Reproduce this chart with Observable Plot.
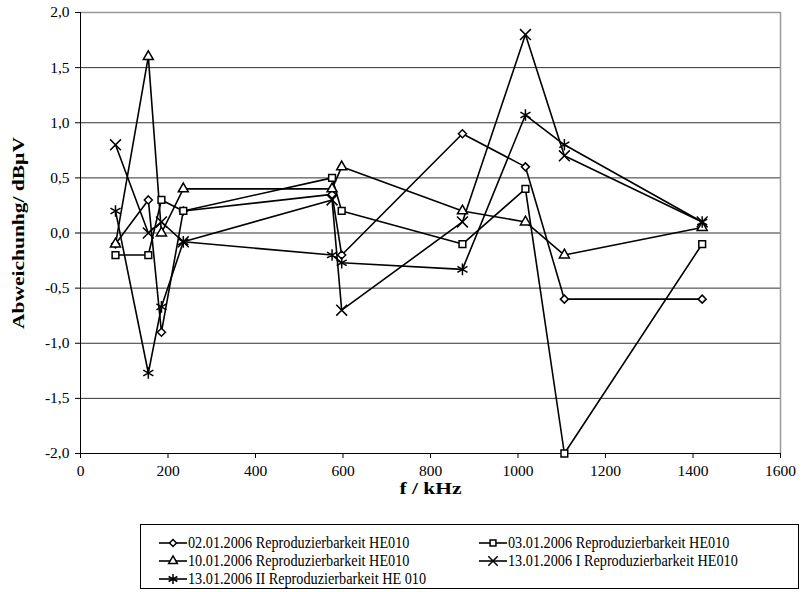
<!DOCTYPE html>
<html><head><meta charset="utf-8">
<script src="https://cdn.jsdelivr.net/npm/d3@7"></script>
<script src="https://cdn.jsdelivr.net/npm/@observablehq/plot@0.6"></script>
<style>
body{margin:0;background:#fff;font-family:"Liberation Serif","Times New Roman",serif;}
#wrap{position:relative;width:805px;height:592px;}
#legend{position:absolute;left:140px;top:524px;width:659px;height:65px;border:1px solid #000;box-sizing:border-box;font-size:16px;color:#000;}
.li{position:absolute;display:flex;align-items:center;height:18px;white-space:nowrap;}
.li svg{margin-right:1px;flex:none;}
.li span{display:inline-block;transform:scaleX(0.89);transform-origin:left center;}
g[aria-label="y-axis label"] text, g[aria-label="x-axis label"] text{font-weight:bold;}
</style></head><body>
<div id="wrap"><div id="chart"></div><div id="legend"></div></div>
<script>
const freqs = [80, 155, 185, 235, 575, 597, 873, 1017, 1106, 1421];
const s1 = [-0.1, 0.3, -0.9, 0.2, 0.35, -0.2, 0.9, 0.6, -0.6, -0.6];
const s2 = [-0.2, -0.2, 0.3, 0.2, 0.5, 0.2, -0.1, 0.4, -2.0, -0.1];
const s3 = [-0.1, 1.6, 0.0, 0.4, 0.4, 0.6, 0.2, 0.1, -0.2, 0.05];
const s4 = [0.8, 0.0, 0.1, -0.08, 0.3, -0.7, 0.1, 1.8, 0.7, 0.1];
const s5 = [0.2, -1.27, -0.67, -0.08, -0.2, -0.27, -0.33, 1.07, 0.8, 0.1];
const names = ["02.01.2006 Reproduzierbarkeit HE010","03.01.2006 Reproduzierbarkeit HE010","10.01.2006 Reproduzierbarkeit HE010","13.01.2006 I Reproduzierbarkeit HE010","13.01.2006 II Reproduzierbarkeit HE 010"];
const symbols = ["diamond2","square2","triangle2","times","asterisk"];
const sizes = [3.6, 4.3, 4.8, 5, 5.5];
const xTicks = [0,200,400,600,800,1000,1200,1400,1600];
const yTicks = [-2,-1.5,-1,-0.5,0,0.5,1,1.5,2];

const allSeries = [s1,s2,s3,s4,s5].map((vals,i)=>vals.map((v,j)=>({f:freqs[j],v,s:i})));
const fmt = d => d.toFixed(1).replace(".", ",");
const marks = [
  Plot.ruleY(yTicks.slice(1,-1), {stroke:"#333", strokeWidth:1}),
  Plot.ruleY([2], {stroke:"#999", strokeWidth:1.5}),
  Plot.ruleX([1600], {stroke:"#999", strokeWidth:1.5}),
  Plot.ruleY([-2], {stroke:"#000", strokeWidth:1}),
  Plot.ruleX([0], {stroke:"#000", strokeWidth:1}),
  Plot.axisX({ticks:xTicks, tickSize:5, tickPadding:6, fontSize:15.5, tickFormat:d=>String(d), label:"f / kHz", labelAnchor:"center", labelArrow:"none", labelOffset:40}),
  Plot.axisY({ticks:yTicks, tickSize:5, tickPadding:6, fontSize:15.5, tickFormat:fmt, label:"Abweichunhg/ dBµV", labelAnchor:"center", labelArrow:"none", labelOffset:68})
];
allSeries.forEach((d,i)=>{
  marks.push(Plot.line(d,{x:"f",y:"v",stroke:"#000",strokeWidth:1.6}));
});
allSeries.forEach((d,i)=>{
  marks.push(Plot.dot(d,{x:"f",y:"v",symbol:symbols[i],r:sizes[i],stroke:"#000",fill:(i<3?"#fff":"none"),strokeWidth:1.5}));
});
const chart = Plot.plot({
  width:805, height:500,
  marginLeft:80, marginRight:25, marginTop:12, marginBottom:47,
  style:{fontFamily:"Liberation Serif, Times New Roman, serif", fontSize:"15px", color:"#000", background:"#fff"},
  x:{domain:[0,1600]},
  y:{domain:[-2,2]},
  marks
});
const xl = chart.querySelector('g[aria-label="x-axis label"] text');
if (xl) { xl.style.fontSize = "17px"; xl.setAttribute("textLength", "62"); xl.setAttribute("lengthAdjust", "spacingAndGlyphs"); }
const yl = chart.querySelector('g[aria-label="y-axis label"] text');
if (yl) { yl.style.fontSize = "16px"; yl.setAttribute("textLength", "192"); yl.setAttribute("lengthAdjust", "spacingAndGlyphs"); }
document.getElementById("chart").appendChild(chart);

// legend
const pos = [[18,10],[338,10],[18,28],[338,28],[18,46]];
const lg = document.getElementById("legend");
const map = {diamond2:d3.symbolDiamond2, square2:d3.symbolSquare2, triangle2:d3.symbolTriangle2, times:d3.symbolTimes, asterisk:d3.symbolAsterisk};
names.forEach((n,i)=>{
  const div = document.createElement("div");
  div.className = "li";
  div.style.left = pos[i][0]+"px";
  div.style.top = (pos[i][1]-1)+"px";
  const sv = d3.create("svg").attr("width",28).attr("height",16);
  sv.append("line").attr("x1",0).attr("x2",28).attr("y1",8).attr("y2",8).attr("stroke","#000").attr("stroke-width",1.6);
  const area = Math.PI*sizes[i]*sizes[i]*0.75;
  sv.append("path").attr("transform","translate(14,8)").attr("d",d3.symbol(map[symbols[i]], area)())
    .attr("fill", i<3?"#fff":"none").attr("stroke","#000").attr("stroke-width",1.5);
  div.appendChild(sv.node());
  const sp = document.createElement("span"); sp.textContent = n; div.appendChild(sp);
  lg.appendChild(div);
});
</script>
</body></html>
